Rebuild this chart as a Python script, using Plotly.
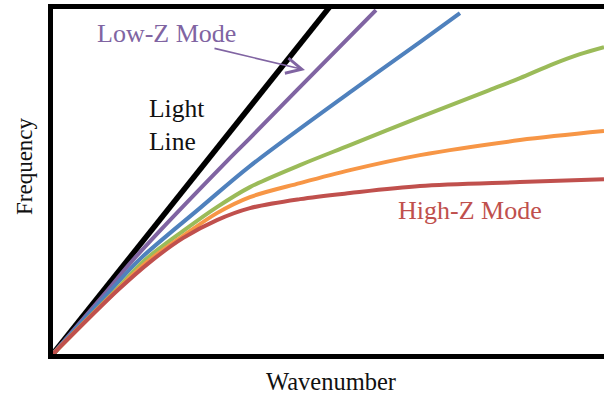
import plotly.graph_objects as go

# ---- data (wavenumber k, frequency w; arbitrary units) ----
light_k = [0.0, 5.04]
light_w = [0.0, 6.32]

lowz_k = [0.0, 1.014, 1.467, 3.188, 3.587, 4.438, 5.870]
lowz_w = [0.0, 1.178, 1.721, 3.533, 3.931, 4.801, 6.250]

blue_k = [0.0, 1.069, 1.594, 2.681, 3.587, 5.453, 6.667, 7.391]
blue_w = [0.0, 1.178, 1.739, 2.663, 3.424, 4.801, 5.670, 6.196]

green_k = [0.0, 1.159, 1.685, 2.373, 2.989, 3.587, 4.493, 5.399, 6.667, 7.880, 8.478, 9.076, 9.565, 10.0]
green_w = [0.0, 1.178, 1.721, 2.246, 2.681, 3.043, 3.442, 3.804, 4.312, 4.783, 5.018, 5.272, 5.453, 5.580]

orange_k = [0.0, 1.178, 1.721, 2.373, 2.989, 3.587, 4.493, 5.399, 6.667, 8.478, 10.0]
orange_w = [0.0, 1.178, 1.685, 2.156, 2.572, 2.862, 3.116, 3.351, 3.623, 3.895, 4.058]

highz_k = [0.0, 1.196, 1.775, 2.373, 2.989, 3.587, 4.493, 5.399, 6.667, 8.478, 10.0]
highz_w = [0.0, 1.178, 1.685, 2.120, 2.446, 2.663, 2.826, 2.935, 3.062, 3.134, 3.188]

series = [
    ("Light Line", light_k, light_w, "#000000", 5.5),
    ("Low-Z Mode", lowz_k, lowz_w, "#8064A2", 4),
    ("Mode 2", blue_k, blue_w, "#4F81BD", 4),
    ("Mode 3", green_k, green_w, "#9BBB59", 4),
    ("Mode 4", orange_k, orange_w, "#F79646", 4),
    ("High-Z Mode", highz_k, highz_w, "#C0504D", 4),
]

fig = go.Figure()
for name, k, w, col, lw in series:
    fig.add_trace(go.Scatter(
        x=k, y=w, mode="lines", name=name,
        line=dict(color=col, width=lw, shape="spline", smoothing=0.9),
        showlegend=False, hoverinfo="skip",
    ))

# layout geometry (pixels)
L, R, T, B = 53, 0, 9, 43
W, H = 604, 397
PW, PH = W - L - R, H - T - B


def px(xp):
    return (xp - L) / PW


def py(yp):
    return (H - B - yp) / PH


FONT = "Liberation Serif"

annotations = [
    dict(text="Low-Z Mode", x=px(166.5), y=py(33), font=dict(size=26, color="#8064A2")),
    dict(text="Light<br>Line", x=px(147), y=py(125), xanchor="left", align="left",
         font=dict(size=25.5, color="#111111")),
    dict(text="High-Z Mode", x=px(470), y=py(210), font=dict(size=26, color="#C0504D")),
    dict(text="Wavenumber", x=px(331), y=py(381.5), font=dict(size=24.5, color="#111111")),
    dict(text="Frequency", x=px(24), y=py(166), textangle=-90, font=dict(size=23, color="#111111")),
    dict(text="", x=px(305), y=py(70), showarrow=True, ax=213 - 305, ay=48 - 70,
         arrowcolor="#8064A2", arrowwidth=1.6, arrowhead=5, arrowsize=1.9),
]
for a in annotations:
    a.setdefault("xref", "paper")
    a.setdefault("yref", "paper")
    a.setdefault("showarrow", False)
    a.setdefault("xanchor", "center")
    a.setdefault("yanchor", "middle")
    if "font" in a:
        a["font"]["family"] = FONT

fig.update_layout(
    width=W, height=H,
    margin=dict(l=L, r=R, t=T, b=B, pad=0),
    paper_bgcolor="white", plot_bgcolor="white",
    font=dict(family=FONT),
    annotations=annotations,
    xaxis=dict(range=[0.02, 10.0], showgrid=False, zeroline=False, showticklabels=False,
               ticks="", showline=True, linecolor="black", linewidth=5, mirror=True),
    yaxis=dict(range=[0.02, 6.27], showgrid=False, zeroline=False, showticklabels=False,
               ticks="", showline=True, linecolor="black", linewidth=5),
)

fig.write_html("out.html", config={"displayModeBar": False},
               post_script="document.body.style.margin='0px';")
